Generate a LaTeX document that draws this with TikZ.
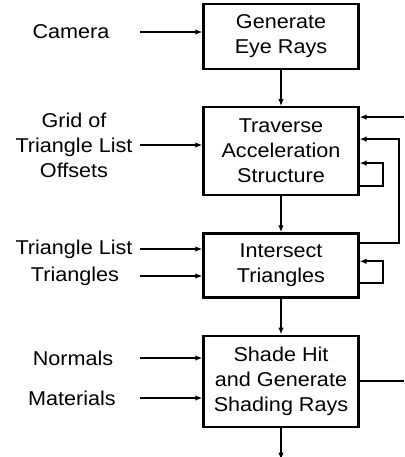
\documentclass[tikz,border=0pt]{standalone}
\usepackage{fontspec}
\setmainfont{Liberation Sans}[FakeStretch=1.08]
\usetikzlibrary{arrows.meta,positioning}

\begin{document}
\begin{tikzpicture}[
  x=1pt,y=-1pt,
  >={Latex[length=7pt,width=5.5pt]},
  node distance=36pt,
  font=\fontsize{20}{25}\selectfont,
  stage/.style={draw,line width=2.2pt,minimum width=155pt,align=center,inner sep=2pt},
  src/.style={align=center,inner sep=0pt},
  flow/.style={->,line width=1.8pt},
  wire/.style={line width=1.8pt}
]
  \useasboundingbox (0,0) rectangle (404,457);

  % pipeline stages
  \node[stage,minimum height=65pt] (gen) at (281,36.5) {Generate\\Eye Rays};
  \node[stage,minimum height=88pt,below=of gen] (trav) {Traverse\\Acceleration\\Structure};
  \node[stage,minimum height=64pt,below=of trav] (isect) {Intersect\\Triangles};
  \node[stage,minimum height=91pt,below=of isect] (shade) {Shade Hit\\and Generate\\Shading Rays};
  \coordinate[below=32pt of shade] (out);

  % inputs on the left
  \node[src] (cam) at (71,32) {Camera};
  \node[src] (grid) at (74,145) {Grid of\\Triangle List\\Offsets};
  \node[src] (tlist) at (74,249) {Triangle List};
  \node[src] (tris) at (75,276) {Triangles};
  \node[src] (norm) at (73,358) {Normals};
  \node[src] (mat) at (72,398) {Materials};

  \coordinate (inx) at (140,0);
  \coordinate (edge) at (404,0);
  \coordinate (fbx) at (399,0);
  \coordinate (slx) at (383,0);

  % ports on the right
  \coordinate (tin1) at ([yshift=-11pt]trav.north east);
  \coordinate (tin2) at ([yshift=-33pt]trav.north east);
  \coordinate (tloop) at ([yshift=-57pt]trav.north east);
  \coordinate (tout) at ([yshift=-80pt]trav.north east);
  \coordinate (iout) at ([yshift=-11pt]isect.north east);
  \coordinate (iloop) at ([yshift=-29pt]isect.north east);
  \coordinate (iself) at ([yshift=-51pt]isect.north east);

  \draw[flow] (gen) -- (trav);
  \draw[flow] (trav) -- (isect);
  \draw[flow] (isect) -- (shade);
  \draw[flow] (shade) -- (out);

  \draw[flow] (inx |- cam) -- (gen.west |- cam);
  \draw[flow] (inx |- grid) -- (trav.west |- grid);
  \draw[flow] (inx |- tlist) -- (isect.west |- tlist);
  \draw[flow] (inx |- tris) -- (isect.west |- tris);
  \draw[flow] (inx |- norm) -- (shade.west |- norm);
  \draw[flow] (inx |- mat) -- (shade.west |- mat);

  \draw[flow] (edge |- tin1) -- (tin1);
  \draw[flow] (iout) -| (fbx |- tin2) -- (tin2);
  \draw[flow] (tout) -| (slx |- tloop) -- (tloop);
  \draw[flow] (iself) -| (slx |- iloop) -- (iloop);
  \draw[wire] (shade.east) -- (edge |- shade.east);
\end{tikzpicture}
\end{document}
